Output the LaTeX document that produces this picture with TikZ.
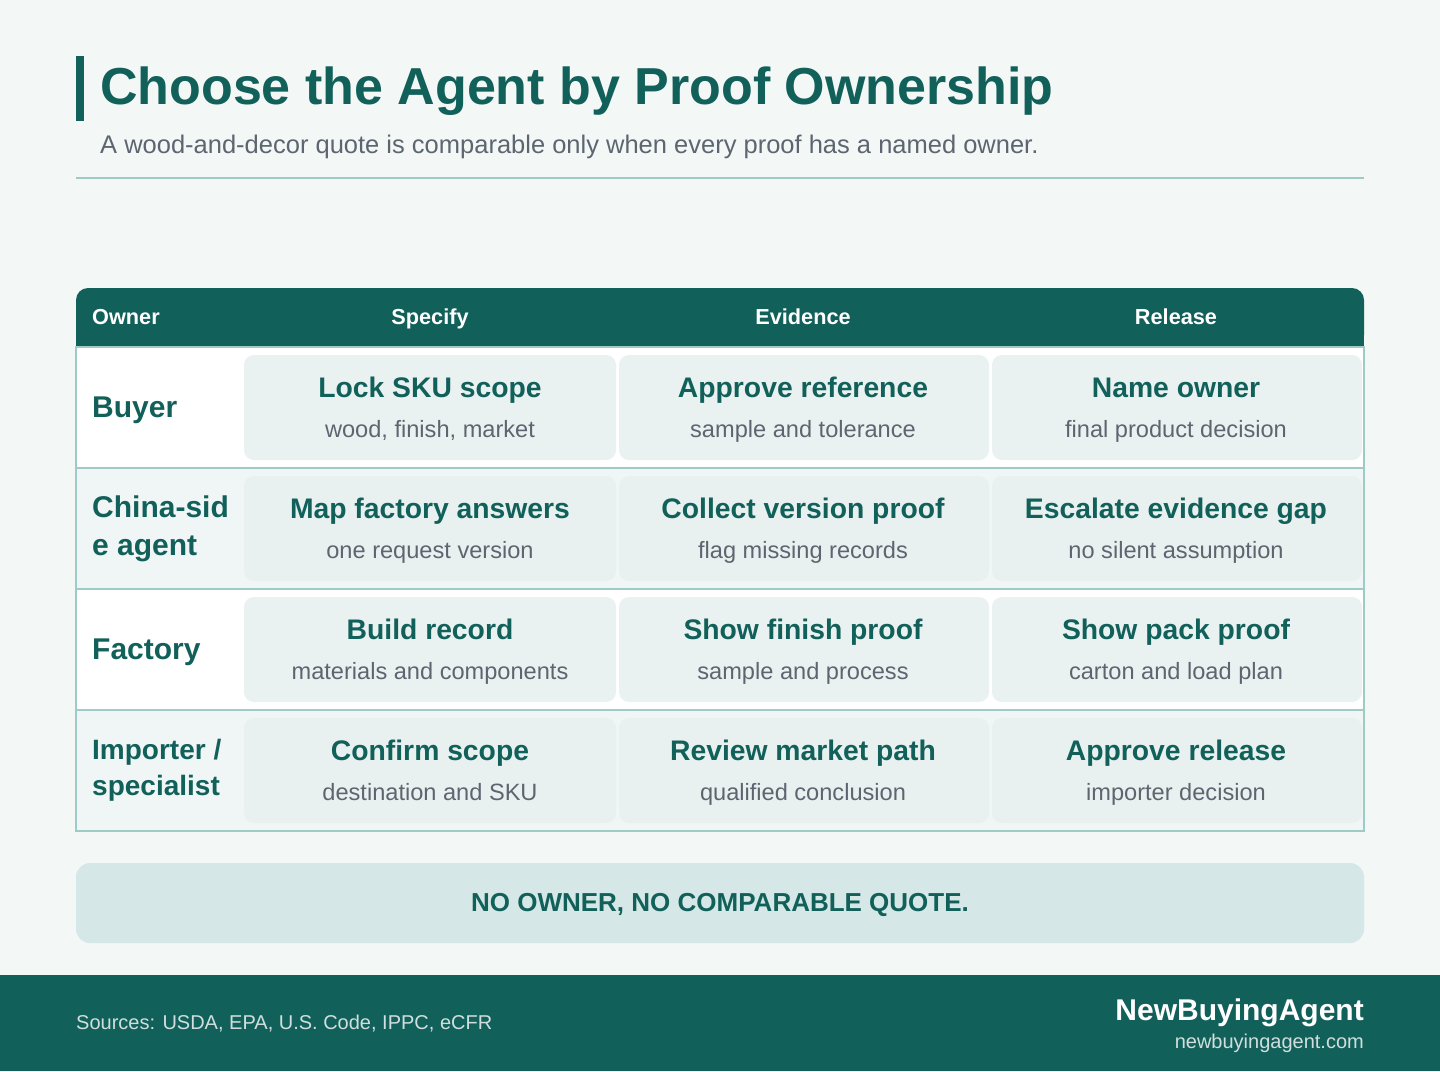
\documentclass[tikz,border=0pt]{standalone}
\usepackage{fontspec}
\setmainfont{Liberation Sans}
\definecolor{bg}{HTML}{F3F7F6}
\definecolor{teal}{HTML}{12605A}
\definecolor{line}{HTML}{9FCBC6}
\definecolor{cellA}{HTML}{EAF2F1}
\definecolor{rowB}{HTML}{F0F6F5}
\definecolor{cellB}{HTML}{E8F1F0}
\definecolor{gray}{HTML}{5D6670}
\definecolor{ban}{HTML}{D5E7E6}
\begin{document}
\begin{tikzpicture}[x=1pt,y=-1pt,
 hdr/.style={text=white,anchor=base,inner sep=0pt,font=\bfseries\fontsize{21.7}{24}\selectfont},
 own/.style={anchor=base west,inner sep=0pt,text=teal,align=left,font=\bfseries\fontsize{30}{38}\selectfont},
 own2/.style={own,anchor=west},
 ct/.style={text=teal,anchor=base,inner sep=0pt,font=\bfseries\fontsize{28.3}{30}\selectfont},
 cs/.style={text=gray,anchor=base,inner sep=0pt,font=\fontsize{23.6}{26}\selectfont},
 cell/.style={rounded corners=10pt}]
\useasboundingbox (0,0) rectangle (1440,1071);
\fill[bg] (0,0) rectangle (1440,1071);
\fill[teal] (76,56) rectangle (84,121);
\node[anchor=base west,inner sep=0pt,text=teal,font=\bfseries\fontsize{52}{56}\selectfont] (title) at (100,104) {Choose the Agent by Proof Ownership};
\node[anchor=base west,inner sep=0pt,text=gray,font=\fontsize{25.5}{28}\selectfont] (sub) at (100,153) {A wood-and-decor quote is comparable only when every proof has a named owner.};
\draw[line,line width=1.5pt] (76,178) -- (1364,178);
% header
\fill[teal,rounded corners=12pt] (76,288) rectangle (1364,347);
\fill[teal] (76,330) rectangle (1364,347);
\node[hdr,anchor=base west] (h0) at (92,324) {Owner};
\node[hdr] (h1) at (430,324) {Specify};
\node[hdr] (h2) at (803,324) {Evidence};
\node[hdr] (h3) at (1176,324) {Release};
% rows
\foreach \i/\rf/\cf in {0/white/cellA,1/rowB/cellB,2/white/cellA,3/rowB/cellB}{
  \pgfmathsetmacro\yt{347+121*\i}
  \fill[\rf] (76,\yt) rectangle (1364,\yt+121);
  \foreach \xa/\xb in {244/616,619/989,992/1362}{
    \fill[\cf,cell] (\xa,\yt+8) rectangle (\xb,\yt+113);
  }
}
\foreach \i in {0,1,2,3}{
  \pgfmathsetmacro\yt{347+121*\i}
  \draw[line,line width=1.2pt] (76,\yt) rectangle (1364,\yt+121);
}
\node[own] (o1) at (92,417) {Buyer};
\node[own2] (o2) at (92,529) {China-sid\\e agent};
\node[own] (o3) at (92,659) {Factory};
\node[own2,font=\bfseries\fontsize{28}{36}\selectfont] (o4) at (92,770) {Importer /\\specialist};
\foreach \r/\a/\as/\b/\bs/\c/\cs in {
0/Lock SKU scope/{wood, finish, market}/Approve reference/sample and tolerance/Name owner/final product decision,
1/Map factory answers/one request version/Collect version proof/flag missing records/Escalate evidence gap/no silent assumption,
2/Build record/materials and components/Show finish proof/sample and process/Show pack proof/carton and load plan,
3/Confirm scope/destination and SKU/Review market path/qualified conclusion/Approve release/importer decision}{
  \pgfmathsetmacro\yy{397+121*\r}
  \node[ct] (t\r a) at (430,\yy) {\a};
  \node[cs] (s\r a) at (430,\yy+40) {\as};
  \node[ct] (t\r b) at (803,\yy) {\b};
  \node[cs] (s\r b) at (803,\yy+40) {\bs};
  \node[ct] (t\r c) at (1176,\yy) {\c};
  \node[cs] (s\r c) at (1176,\yy+40) {\cs};
}
% banner
\fill[ban,rounded corners=14pt] (76,863) rectangle (1364,943);
\node[anchor=base,inner sep=0pt,text=teal,font=\bfseries\fontsize{26}{30}\selectfont] (ban) at (720,911) {NO OWNER, NO COMPARABLE QUOTE.};
% footer
\fill[teal] (0,975) rectangle (1440,1071);
\node[anchor=base west,inner sep=0pt,text=white!80!teal,font=\fontsize{20}{23}\selectfont] (src) at (76,1029) {Sources: USDA, EPA, U.S. Code, IPPC, eCFR};
\node[anchor=base east,inner sep=0pt,text=white,font=\bfseries\fontsize{30}{32}\selectfont] (brand) at (1364,1020) {NewBuyingAgent};
\node[anchor=base east,inner sep=0pt,text=white!80!teal,font=\fontsize{20}{23}\selectfont] (url) at (1364,1048) {newbuyingagent.com};
\end{tikzpicture}
\end{document}
